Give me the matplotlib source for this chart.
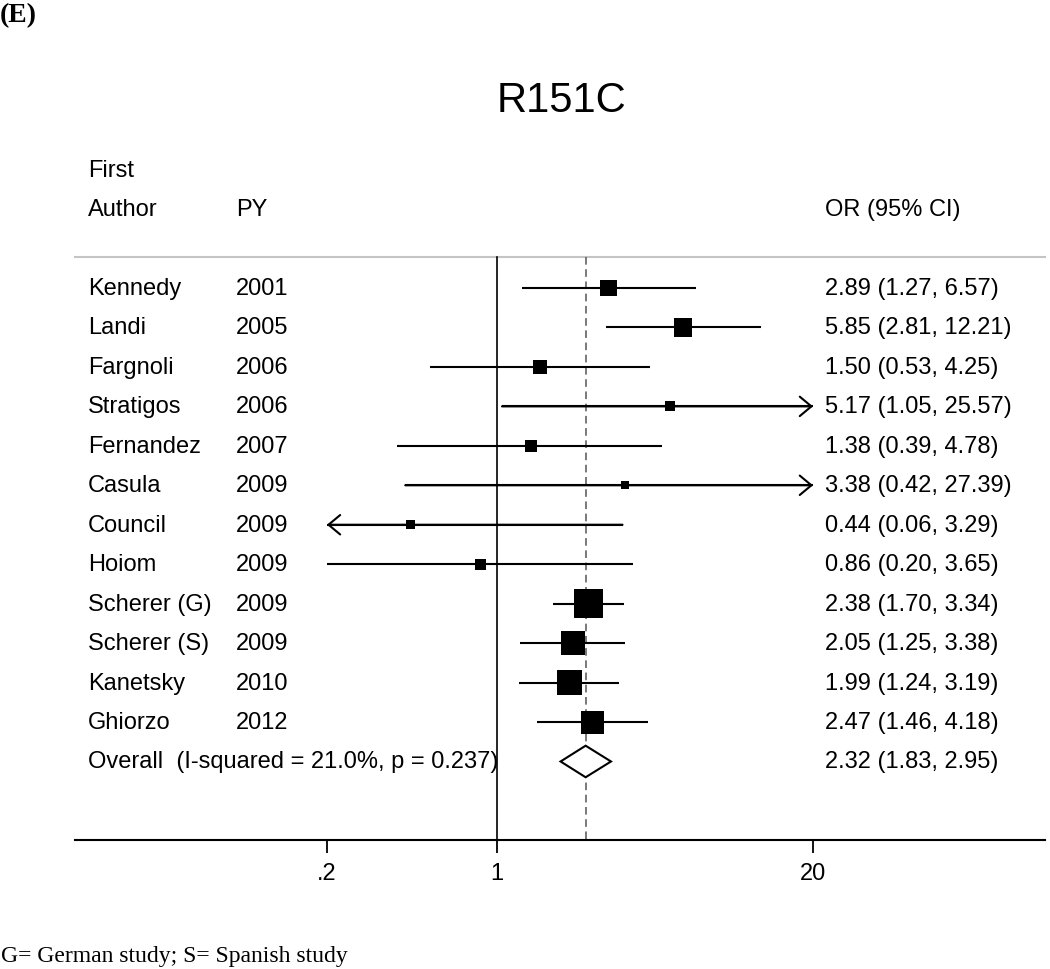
import matplotlib
matplotlib.use('Agg')
import matplotlib.pyplot as plt
import matplotlib.transforms as mtransforms

plt.rcParams['font.family'] = ['Liberation Sans', 'DejaVu Sans']

# ---- data ----
authors = ["Kennedy", "Landi", "Fargnoli", "Stratigos", "Fernandez", "Casula",
           "Council", "Hoiom", "Scherer (G)", "Scherer (S)", "Kanetsky", "Ghiorzo"]
years = [2001, 2005, 2006, 2006, 2007, 2009, 2009, 2009, 2009, 2009, 2010, 2012]
or_est = [2.89, 5.85, 1.50, 5.17, 1.38, 3.38, 0.44, 0.86, 2.38, 2.05, 1.99, 2.47]
ci_lo = [1.27, 2.81, 0.53, 1.05, 0.39, 0.42, 0.06, 0.20, 1.70, 1.25, 1.24, 1.46]
ci_hi = [6.57, 12.21, 4.25, 25.57, 4.78, 27.39, 3.29, 3.65, 3.34, 3.38, 3.19, 4.18]
weights = [7.6, 8.9, 5.2, 2.6, 3.8, 1.7, 2.1, 3.2, 22.2, 15.2, 16.5, 14.0]  # % (box area)
overall_est, overall_lo, overall_hi = 2.32, 1.83, 2.95
i_squared = "21.0%"
p_het = 0.237
xticks = [0.2, 1, 20]
xticklabels = [".2", "1", "20"]

W, H = 1050, 970
fig = plt.figure(figsize=(W / 100, H / 100), dpi=100)
ax = fig.add_axes([75 / W, (H - 841) / H, (1045 - 75) / W, (841 - 150) / H])
ax.set_xscale('log')
ax.set_xlim(0.0184, 180)
ax.set_ylim(13.99, -3.523)

for s in ['top', 'left', 'right']:
    ax.spines[s].set_visible(False)
ax.spines['bottom'].set_linewidth(1.5)
ax.set_yticks([])
ax.set_xticks(xticks)
ax.set_xticklabels(xticklabels)
ax.minorticks_off()
ax.tick_params(axis='x', length=9.5, width=1.3, pad=6, labelsize=17)

clip_lo, clip_hi = xticks[0], xticks[-1]
n = len(authors)
rows = list(range(n))
y_top = -0.786

# header line, null line, overall dashed line
ax.plot([0.0184, 180], [y_top, y_top], color='#c4c4c4', lw=1.5, clip_on=False)
ax.plot([1, 1], [y_top, 13.99], color='black', lw=1.2)
ax.plot([overall_est, overall_est], [y_top, 13.99], color='#555555', lw=1.1,
        dashes=(5, 3))

# confidence intervals
arrow_kw = dict(arrowstyle='->,head_length=0.42,head_width=0.35', lw=1.5,
                color='black', mutation_scale=20, shrinkA=0, shrinkB=0)
for y, lo, hi in zip(rows, ci_lo, ci_hi):
    a = max(lo, clip_lo)
    b = min(hi, clip_hi)
    ax.plot([a, b], [y, y], color='black', lw=1.5, solid_capstyle='butt')
    if hi > clip_hi:
        ax.annotate('', xy=(clip_hi, y), xytext=(a, y), arrowprops=arrow_kw)
    if lo < clip_lo:
        ax.annotate('', xy=(clip_lo, y), xytext=(b, y), arrowprops=arrow_kw)

# weighted boxes
ax.scatter(or_est, rows, s=[w * 19.6 for w in weights], marker='s',
           color='black', linewidths=0, zorder=3)

# overall diamond
yo = n
ax.fill([overall_lo, overall_est, overall_hi, overall_est],
        [yo, yo - 0.4, yo, yo + 0.4], facecolor='white', edgecolor='black',
        lw=1.5, zorder=3)

# text columns
tr = mtransforms.blended_transform_factory(fig.transFigure, ax.transData)
fs = 17
x_auth, x_year, x_or = 88 / W, 236 / W, 825 / W
ax.text(x_auth, -3, "First", transform=tr, fontsize=fs, va='center')
ax.text(x_auth, -2, "Author", transform=tr, fontsize=fs, va='center')
ax.text(x_year, -2, "PY", transform=tr, fontsize=fs, va='center')
ax.text(x_or, -2, "OR (95% CI)", transform=tr, fontsize=fs, va='center')
for y, a, yr, e, lo, hi in zip(rows, authors, years, or_est, ci_lo, ci_hi):
    ax.text(x_auth, y, a, transform=tr, fontsize=fs, va='center')
    ax.text(x_year, y, str(yr), transform=tr, fontsize=fs, va='center')
    ax.text(x_or, y, f"{e:.2f} ({lo:.2f}, {hi:.2f})", transform=tr,
            fontsize=fs, va='center')
ax.text(x_auth, yo, f"Overall  (I-squared = {i_squared}, p = {p_het:.3f})",
        transform=tr, fontsize=fs, va='center')
ax.text(x_or, yo, f"{overall_est:.2f} ({overall_lo:.2f}, {overall_hi:.2f})",
        transform=tr, fontsize=fs, va='center')

# title, panel letter, footnote
fig.text(562 / W, 1 - 101 / H, "R151C", fontsize=30, ha='center', va='center')
fig.text(0.0, 1 - 22 / H, "(E)", fontsize=20, fontweight='bold',
         family='Liberation Serif', va='baseline')
fig.text(1 / W, 1 - 962 / H, "G= German study; S= Spanish study", fontsize=17,
         family='Liberation Serif', va='baseline')

fig.savefig('out.png', dpi=100, facecolor='white')
